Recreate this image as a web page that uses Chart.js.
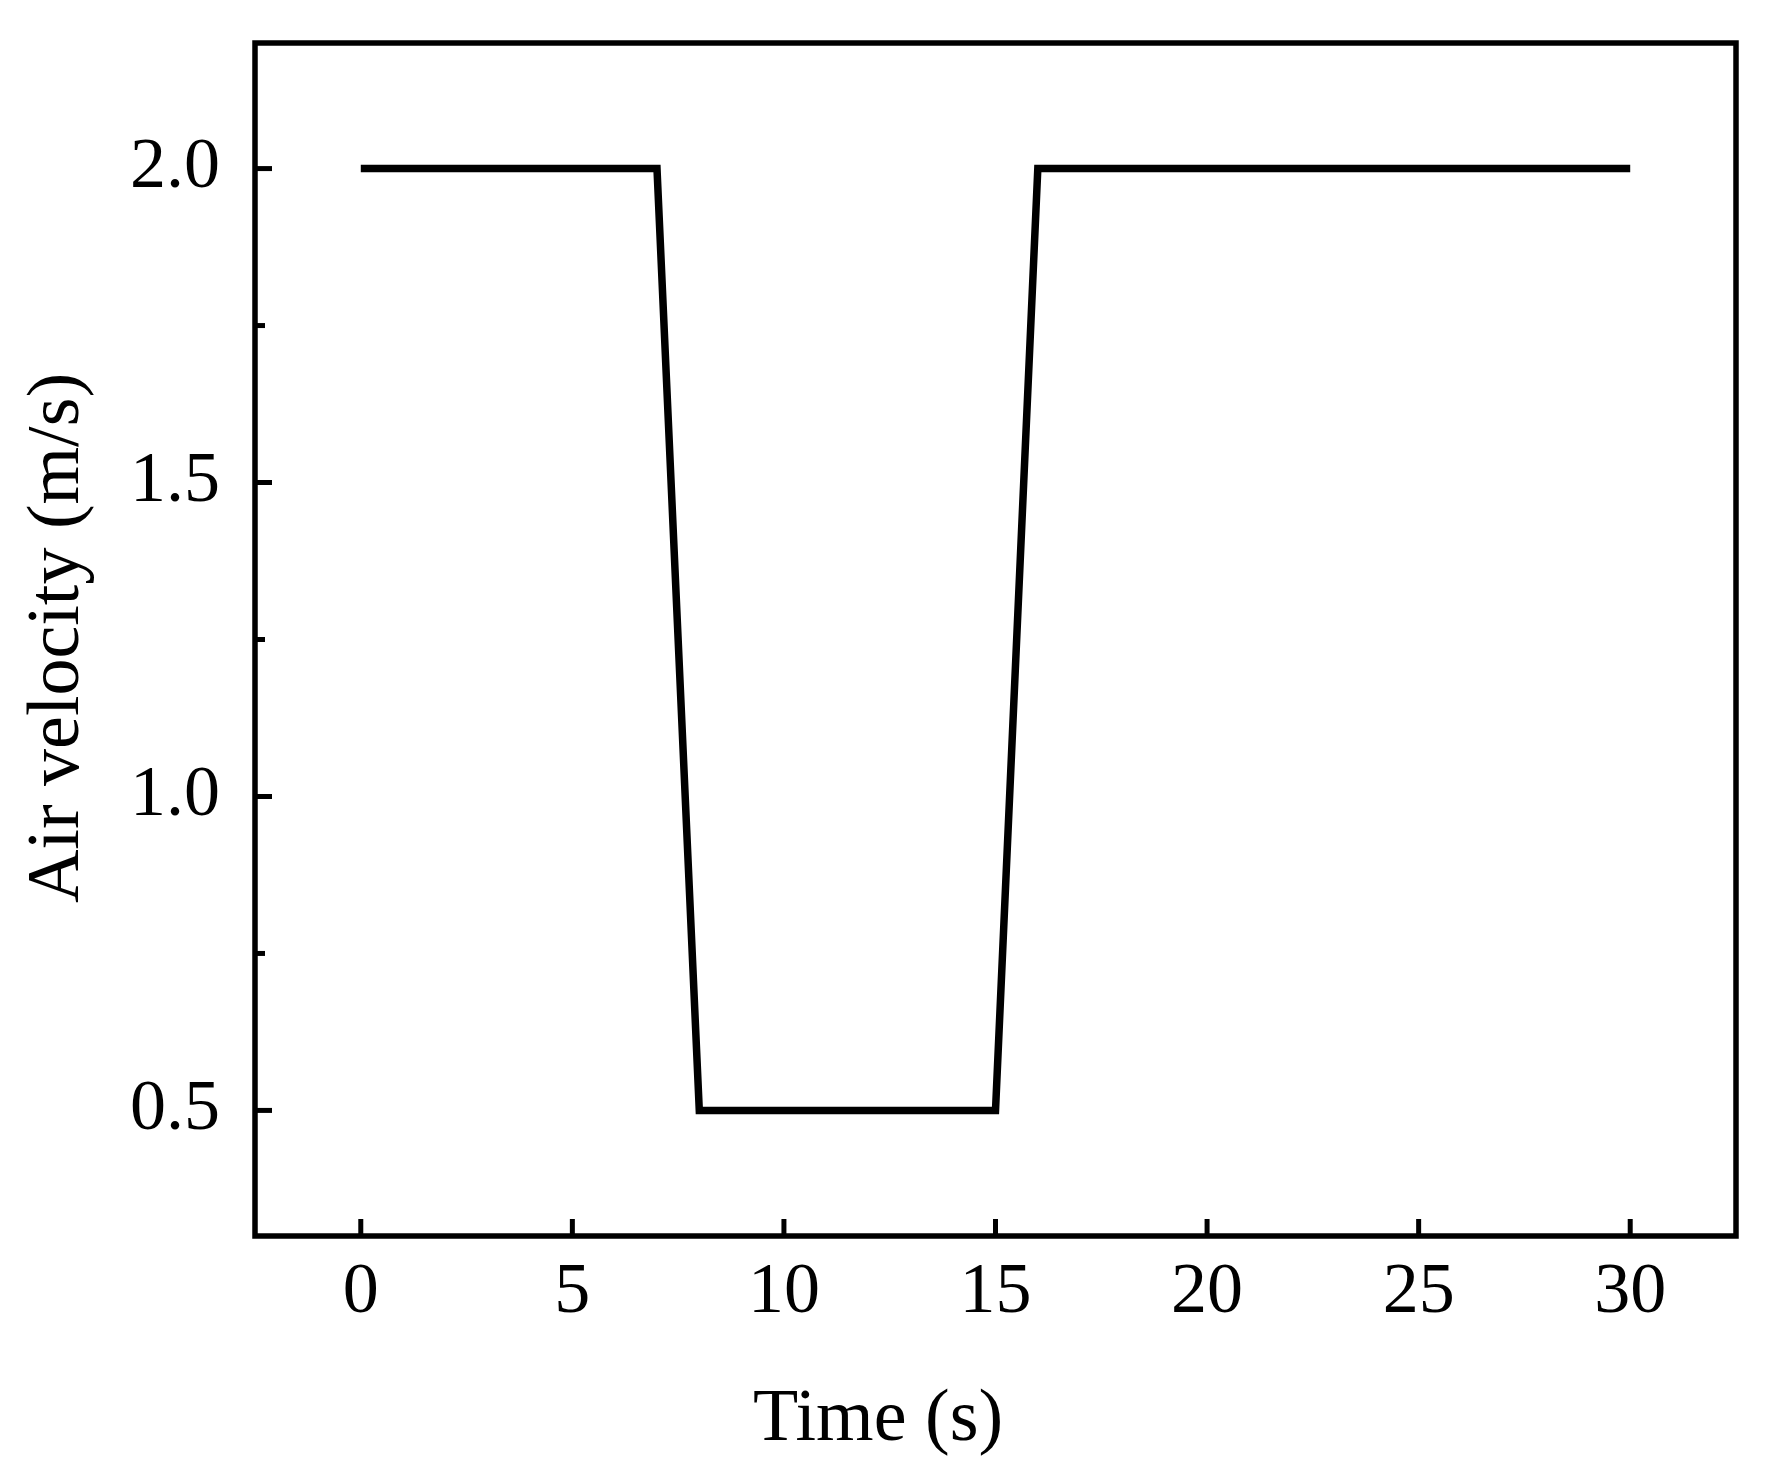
<!DOCTYPE html>
<html>
<head>
<meta charset="utf-8">
<script src="https://cdn.jsdelivr.net/npm/chart.js@4.4.1/dist/chart.umd.min.js"></script>
<style>
  html, body { margin: 0; padding: 0; background: #fff; }
  #wrap { position: relative; width: 1786px; height: 1473px; }
</style>
</head>
<body>
<div id="wrap"><canvas id="c" width="1786" height="1473"></canvas></div>
<script>
// ---- data ----
const timeValues = [0, 7, 8, 15, 16, 30];
const velocityValues = [2.0, 2.0, 0.5, 0.5, 2.0, 2.0];
const xTickValues = [0, 5, 10, 15, 20, 25, 30];
const yTickValues = [0.5, 1.0, 1.5, 2.0];
const yMinorTickValues = [0.75, 1.25, 1.75];
const xTitle = 'Time (s)';
const yTitle = 'Air velocity (m/s)';

const FONT = '"Liberation Serif", "Times New Roman", serif';

const points = timeValues.map((t, i) => ({ x: t, y: velocityValues[i] }));

const framePlugin = {
  id: 'frame',
  afterDraw(chart) {
    const ctx = chart.ctx;
    const a = chart.chartArea;
    const xs = chart.scales.x, ys = chart.scales.y;
    ctx.save();
    ctx.strokeStyle = '#000';
    ctx.lineWidth = 5.5;
    ctx.lineJoin = 'miter';
    ctx.strokeRect(a.left, a.top, a.right - a.left, a.bottom - a.top);
    ctx.lineWidth = 5;
    ctx.lineCap = 'butt';
    xTickValues.forEach(v => {
      const px = xs.getPixelForValue(v);
      ctx.beginPath();
      ctx.moveTo(px, a.bottom);
      ctx.lineTo(px, a.bottom - 17);
      ctx.stroke();
    });
    yTickValues.forEach(v => {
      const py = ys.getPixelForValue(v);
      ctx.beginPath();
      ctx.moveTo(a.left, py);
      ctx.lineTo(a.left + 17, py);
      ctx.stroke();
    });
    yMinorTickValues.forEach(v => {
      const py = ys.getPixelForValue(v);
      ctx.beginPath();
      ctx.moveTo(a.left, py);
      ctx.lineTo(a.left + 10, py);
      ctx.stroke();
    });
    ctx.fillStyle = '#000';
    ctx.font = '74px ' + FONT;
    ctx.textAlign = 'center';
    ctx.textBaseline = 'alphabetic';
    ctx.fillText(xTitle, 878, 1440);
    ctx.save();
    ctx.translate(78, 638);
    ctx.rotate(-Math.PI / 2);
    ctx.fillText(yTitle, 0, 0);
    ctx.restore();
    ctx.restore();
  }
};

new Chart(document.getElementById('c'), {
  type: 'line',
  data: {
    datasets: [{
      data: points,
      borderColor: '#000',
      borderWidth: 7.5,
      borderJoinStyle: 'miter',
      borderCapStyle: 'butt',
      pointRadius: 0,
      fill: false,
      tension: 0
    }]
  },
  options: {
    responsive: false,
    animation: false,
    devicePixelRatio: 1,
    layout: { padding: { left: 0, top: 43, right: 50, bottom: 0 } },
    plugins: { legend: { display: false }, tooltip: { enabled: false } },
    scales: {
      x: {
        type: 'linear',
        min: -2.5,
        max: 32.5,
        grid: { display: false, drawTicks: false },
        border: { display: false },
        afterBuildTicks: s => { s.ticks = xTickValues.map(v => ({ value: v })); },
        afterFit: s => { s.height = 237; s.paddingLeft = 0; s.paddingRight = 0; },
        ticks: {
          color: '#000',
          font: { family: FONT, size: 72 },
          padding: 14,
          maxRotation: 0,
          autoSkip: false,
          callback: v => String(v)
        }
      },
      y: {
        type: 'linear',
        min: 0.3,
        max: 2.2,
        grid: { display: false, drawTicks: false },
        border: { display: false },
        afterBuildTicks: s => { s.ticks = yTickValues.map(v => ({ value: v })); },
        afterFit: s => { s.width = 255; s.paddingTop = 0; s.paddingBottom = 0; },
        ticks: {
          color: '#000',
          font: { family: FONT, size: 72 },
          padding: 35,
          autoSkip: false,
          callback: v => v.toFixed(1)
        }
      }
    }
  },
  plugins: [framePlugin]
});
</script>
</body>
</html>
